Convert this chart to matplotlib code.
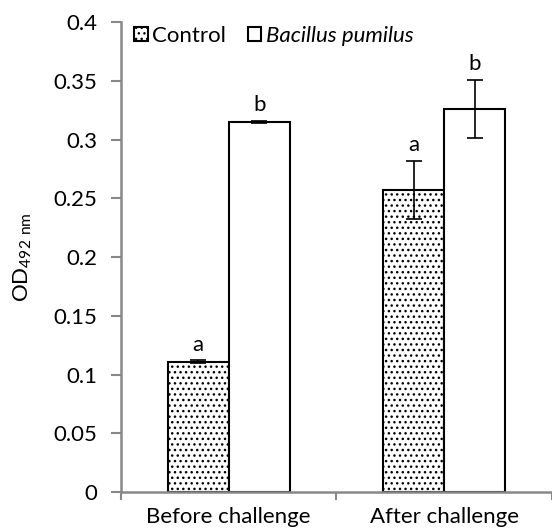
import matplotlib
matplotlib.use("Agg")
import matplotlib.pyplot as plt
import numpy as np

groups = ["Before challenge", "After challenge"]
control = [0.111, 0.257]
control_err = [0.001, 0.025]
bacillus = [0.315, 0.326]
bacillus_err = [0.001, 0.025]
control_letters = ["a", "a"]
bacillus_letters = ["b", "b"]

plt.rcParams['font.family'] = ['Lato', 'DejaVu Sans']
plt.rcParams['hatch.linewidth'] = 1.0

fig = plt.figure(figsize=(5.52, 5.32), dpi=100)
ax = fig.add_axes([0.219, 0.0752, 0.781, 0.8834])

x = np.arange(len(groups))
w = 0.283
axis_col = '#888888'
fs = 16

ax.bar(x - w/2, control, w, color='white', edgecolor='black', hatch='...',
       linewidth=1.5, label='Control')
ax.bar(x + w/2, bacillus, w, color='white', edgecolor='black',
       linewidth=1.5, label='Bacillus pumilus')
ax.errorbar(x - w/2, control, yerr=control_err, fmt='none', ecolor='black',
            elinewidth=1.2, capsize=6, capthick=1.2)
ax.errorbar(x + w/2, bacillus, yerr=bacillus_err, fmt='none', ecolor='black',
            elinewidth=1.2, capsize=6, capthick=1.2)

for i in range(len(groups)):
    ax.text(x[i] - w/2, control[i] + control_err[i] + 0.005, control_letters[i],
            ha='center', va='bottom', fontsize=fs)
    ax.text(x[i] + w/2, bacillus[i] + bacillus_err[i] + 0.005, bacillus_letters[i],
            ha='center', va='bottom', fontsize=fs)

ax.set_xlim(-0.5, 1.5)
ax.set_ylim(0, 0.4)
ax.set_yticks(np.arange(0, 0.41, 0.05))
ax.set_yticklabels(['0', '0.05', '0.1', '0.15', '0.2', '0.25', '0.3', '0.35', '0.4'])
ax.set_xticks([-0.5, 0.5, 1.5])
ax.set_xticklabels([])
ax.set_xticks(x, minor=True)
ax.set_xticklabels(groups, minor=True)
ax.tick_params(axis='x', which='minor', length=0, pad=11, labelsize=fs)
ax.tick_params(axis='x', which='major', length=6, color=axis_col, width=1.5)
ax.tick_params(axis='y', length=7, color=axis_col, width=1.5, labelsize=fs, pad=10)

for s in ['top', 'right']:
    ax.spines[s].set_visible(False)
for s in ['left', 'bottom']:
    ax.spines[s].set_color(axis_col)
    ax.spines[s].set_linewidth(1.8)

ax.set_ylabel('OD$_{\\mathregular{492\\ nm}}$', fontsize=fs, labelpad=14)

leg = ax.legend(loc='upper left', bbox_to_anchor=(0.0, 1.02), ncol=2, frameon=False,
                fontsize=fs, handlelength=0.6, handleheight=0.6, handletextpad=0.2,
                columnspacing=1.0, borderaxespad=0.2)
leg.get_texts()[1].set_fontstyle('italic')

fig.savefig('out.png', dpi=100)
